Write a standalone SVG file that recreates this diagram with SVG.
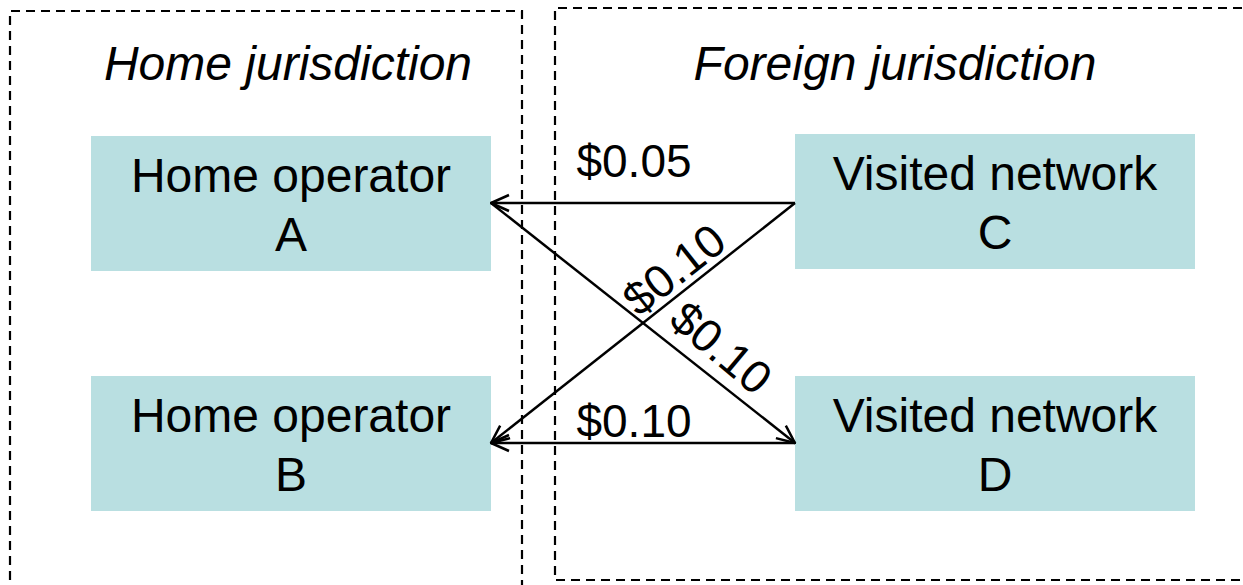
<svg xmlns="http://www.w3.org/2000/svg" width="1243" height="585" viewBox="0 0 1243 585">
<defs>
<marker id="ah" markerWidth="20" markerHeight="20" refX="19" refY="10" orient="auto" markerUnits="userSpaceOnUse">
<path d="M1,2 L19,10 L1,18" fill="none" stroke="#000" stroke-width="2.5"/>
</marker>
<style>
.zone{fill:none;stroke:#000;stroke-width:2.2;stroke-dasharray:9,6}
.node{fill:#b9dfe1}
.t{font-family:"Liberation Sans",Arial,sans-serif;font-size:48px;fill:#000;text-anchor:middle}
.ti{font-style:italic}
.lb{font-family:"Liberation Sans",Arial,sans-serif;font-size:46px;fill:#000;text-anchor:middle}
.c{stroke:#000;stroke-width:2.5;fill:none;marker-end:url(#ah)}
</style>
</defs>
<rect width="1243" height="585" fill="#fff"/>
<g id="home-zone">
<path class="zone" d="M10,595 L10,11 L522,11 L522,595"/>
<text class="t ti" x="288" y="80">Home jurisdiction</text>
</g>
<g id="foreign-zone">
<path class="zone" d="M1255,580 L555,580 L555,8 L1255,8"/>
<text class="t ti" x="895" y="80">Foreign jurisdiction</text>
</g>
<g id="nodeA">
<rect class="node" x="91" y="136" width="400" height="135"/>
<text class="t" x="291" y="192">Home operator</text>
<text class="t" x="291" y="251">A</text>
</g>
<g id="nodeB">
<rect class="node" x="91" y="376" width="400" height="135"/>
<text class="t" x="291" y="432">Home operator</text>
<text class="t" x="291" y="491">B</text>
</g>
<g id="nodeC">
<rect class="node" x="795" y="134" width="400" height="135"/>
<text class="t" x="995" y="190">Visited network</text>
<text class="t" x="995" y="249">C</text>
</g>
<g id="nodeD">
<rect class="node" x="795" y="376" width="400" height="135"/>
<text class="t" x="995" y="432">Visited network</text>
<text class="t" x="995" y="491">D</text>
</g>
<g id="connectors">
<line class="c" x1="795" y1="203" x2="491" y2="203"/>
<line class="c" x1="795" y1="203" x2="491" y2="443"/>
<line class="c" x1="491" y1="203" x2="795" y2="443"/>
<line class="c" x1="795" y1="443" x2="491" y2="443"/>
<text class="lb" x="634" y="177">$0.05</text>
<text class="lb" x="634" y="437">$0.10</text>
<text class="lb" transform="translate(684,282) rotate(-38.3)">$0.10</text>
<text class="lb" transform="translate(711,360) rotate(40)">$0.10</text>
</g>
</svg>
